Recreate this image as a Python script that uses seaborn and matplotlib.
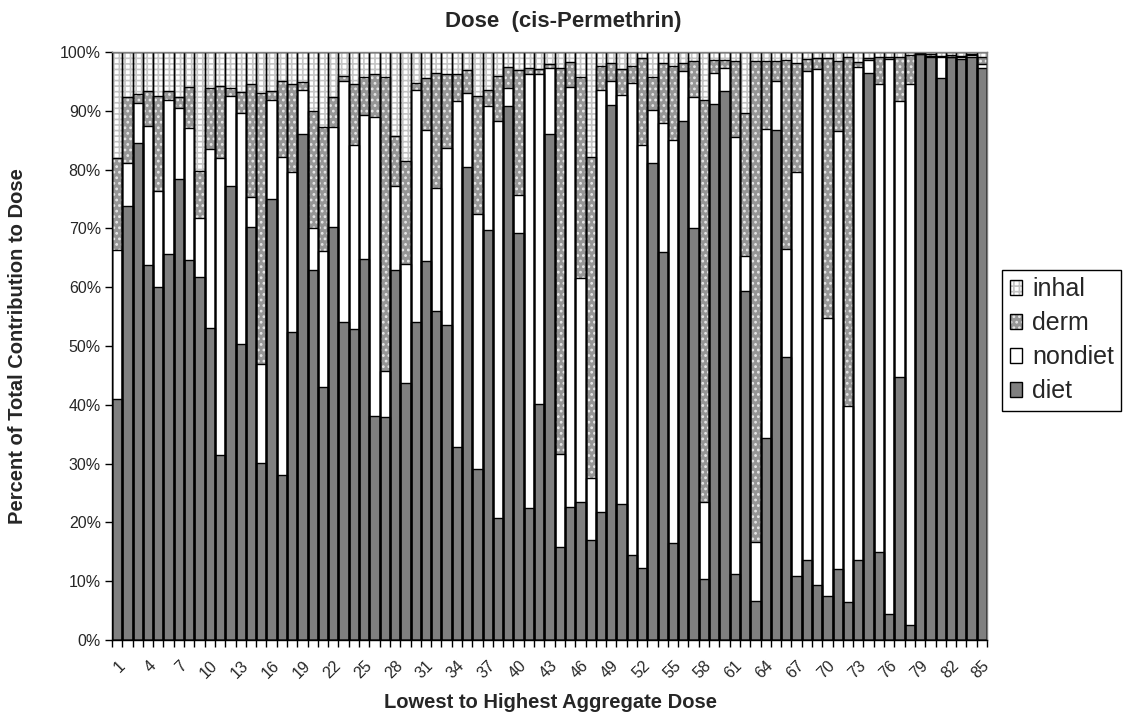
import numpy as np
import pandas as pd
import matplotlib
matplotlib.use("Agg")
import matplotlib.pyplot as plt
import matplotlib.patches as mpatches
from matplotlib.legend_handler import HandlerTuple
import seaborn as sns

sns.set_style("white")
plt.rcParams["font.family"] = ["Liberation Sans", "DejaVu Sans"]
plt.rcParams["hatch.linewidth"] = 1.2

# ---------------- data (percent of total dose) ----------------
dose_rank = list(range(1, 86))
tick_every = 3

diet = [41.0, 73.8, 84.6, 63.8, 60.1, 65.6, 78.4, 64.7, 61.8, 53.0,
        31.4, 77.2, 50.3, 70.3, 30.1, 75.0, 28.0, 52.4, 86.1, 62.9,
        43.0, 70.3, 54.0, 52.9, 64.8, 38.1, 37.9, 62.9, 43.7, 54.1,
        64.5, 56.0, 53.5, 32.8, 80.4, 29.0, 69.7, 20.7, 90.9, 69.2,
        22.4, 40.2, 86.1, 15.9, 22.7, 23.4, 17.0, 21.8, 91.0, 23.1,
        14.4, 12.3, 81.1, 66.0, 16.5, 88.3, 70.1, 10.4, 91.1, 93.3,
        11.3, 59.3, 6.7, 34.3, 86.7, 48.1, 10.9, 13.6, 9.4, 7.4,
        12.0, 6.4, 13.6, 96.4, 15.0, 4.4, 44.8, 2.6, 99.6, 99.1,
        95.6, 99.1, 98.8, 99.1, 97.3]
nondiet = [25.4, 7.4, 6.7, 23.6, 16.3, 26.3, 12.0, 22.4, 9.9, 30.5,
           50.5, 15.3, 39.4, 5.1, 16.9, 16.9, 54.2, 27.2, 7.5, 7.2,
           23.2, 17.0, 41.1, 31.3, 24.5, 50.8, 7.9, 14.3, 20.3, 39.4,
           22.2, 20.9, 30.2, 58.8, 12.6, 43.5, 21.1, 67.6, 2.9, 6.4,
           73.9, 56.0, 11.2, 15.8, 71.3, 38.1, 10.5, 71.8, 4.0, 69.6,
           80.3, 71.8, 9.1, 22.0, 68.5, 8.4, 22.2, 13.0, 5.4, 4.0,
           74.3, 6.0, 10.0, 52.6, 8.3, 18.4, 68.7, 83.1, 87.7, 47.3,
           74.5, 33.4, 83.8, 2.2, 79.5, 94.4, 46.8, 91.9, 0.0, 0.2,
           3.5, 0.1, 0.3, 0.4, 0.7]
derm = [15.5, 11.2, 1.5, 6.0, 16.1, 1.4, 1.9, 6.9, 8.1, 10.4,
        12.3, 1.4, 3.5, 19.1, 46.0, 1.4, 12.9, 14.9, 1.3, 19.9,
        21.1, 5.0, 0.9, 10.3, 6.4, 7.3, 49.9, 8.5, 17.5, 1.2,
        8.9, 19.6, 12.5, 4.6, 3.9, 20.0, 2.8, 7.7, 3.6, 21.3,
        1.0, 0.9, 0.6, 65.6, 4.3, 34.3, 54.7, 4.1, 3.1, 4.4,
        3.0, 14.9, 5.6, 10.2, 12.6, 1.5, 6.1, 68.5, 2.1, 1.3,
        12.8, 24.4, 81.7, 11.5, 3.4, 32.1, 18.5, 2.1, 1.9, 44.2,
        11.9, 59.3, 0.9, 0.4, 4.6, 0.4, 7.6, 5.0, 0.2, 0.3,
        0.2, 0.3, 0.3, 0.2, 1.2]
inhal = [18.1, 7.6, 7.2, 6.6, 7.5, 6.7, 7.7, 6.0, 20.2, 6.1,
         5.8, 6.1, 6.8, 5.5, 7.0, 6.7, 4.9, 5.5, 5.1, 10.0,
         12.7, 7.7, 4.0, 5.5, 4.3, 3.8, 4.3, 14.3, 18.5, 5.3,
         4.4, 3.5, 3.8, 3.8, 3.1, 7.5, 6.4, 4.0, 2.6, 3.1,
         2.7, 2.9, 2.1, 2.7, 1.7, 4.2, 17.8, 2.3, 1.9, 2.9,
         2.3, 1.0, 4.2, 1.8, 2.4, 1.8, 1.6, 8.1, 1.4, 1.4,
         1.6, 10.3, 1.6, 1.6, 1.6, 1.4, 1.9, 1.2, 1.0, 1.1,
         1.6, 0.9, 1.7, 1.0, 0.9, 0.8, 0.8, 0.5, 0.2, 0.4,
         0.7, 0.5, 0.6, 0.3, 0.8]

series_names = ["diet", "nondiet", "derm", "inhal"]
legend_order = ["inhal", "derm", "nondiet", "diet"]

title_text = "Dose  (cis-Permethrin)"
x_title = "Lowest to Highest Aggregate Dose"
y_title = "Percent of Total Contribution to Dose"

# ---------------- frame ----------------
df = pd.DataFrame({"rank": [str(r) for r in dose_rank],
                   "diet": diet, "nondiet": nondiet,
                   "derm": derm, "inhal": inhal})
running = np.zeros(len(df))
for name in series_names:
    running = running + df[name].to_numpy()
    df["cum_" + name] = running

styles = {
    "inhal":   dict(fc="white",   hatch="+++", hc="#c4c4c4"),
    "derm":    dict(fc="#969696", hatch="...", hc="#e6e6e6"),
    "nondiet": dict(fc="white",   hatch=None,  hc="white"),
    "diet":    dict(fc="#808080", hatch=None,  hc="#808080"),
}

W, H = 1126, 713
fig = plt.figure(figsize=(W / 100, H / 100), dpi=100)
ax = fig.add_axes([112 / W, 1 - 640 / H, (987 - 112) / W, (640 - 52) / H])

order = list(df["rank"])
draw_order = ["inhal", "derm", "nondiet", "diet"]  # tallest cumulative first
for name in draw_order:
    st = styles[name]
    kw = dict(edgecolor=st["hc"], linewidth=0)
    if st["hatch"]:
        kw["hatch"] = st["hatch"]
    sns.barplot(data=df, x="rank", y="cum_" + name, order=order,
                color=st["fc"], saturation=1, width=1.0, errorbar=None,
                ax=ax, **kw)
for name in draw_order:
    sns.barplot(data=df, x="rank", y="cum_" + name, order=order,
                color="black", fill=False, saturation=1, width=1.0,
                errorbar=None, linewidth=1.0, ax=ax)

# ---------------- axes styling ----------------
n = len(df)
ax.set_xlim(-0.5, n - 0.5)
ax.set_ylim(0, 100)
ax.set_xlabel("")
ax.set_ylabel("")

ax.set_xticks(np.arange(-0.5, n, 1.0))
ax.set_xticklabels([])
ax.tick_params(axis="x", which="major", direction="out", length=5,
               width=1, color="black", bottom=True)
lab_pos = list(range(0, n, tick_every))
ax.set_xticks(lab_pos, minor=True)
ax.set_xticklabels([order[i] for i in lab_pos], minor=True, rotation=45,
                   ha="right", rotation_mode="anchor", fontsize=11.5)
ax.tick_params(axis="x", which="minor", length=0, pad=13)

yt = list(range(0, 101, 10))
ax.set_yticks(yt)
ax.set_yticklabels([f"{v}%" for v in yt], fontsize=11.5)
ax.tick_params(axis="y", direction="out", length=5, width=1,
               color="black", left=True, pad=3)

for side in ["left", "bottom"]:
    ax.spines[side].set_color("black")
    ax.spines[side].set_linewidth(1.0)
for side in ["top", "right"]:
    ax.spines[side].set_color("#808080")
    ax.spines[side].set_linewidth(1.0)
ax.grid(False)

# ---------------- texts ----------------
fig.text(0.5, 1 - 22 / H, title_text, ha="center", va="center",
         fontsize=16, fontweight="bold")
fig.text(550 / W, 1 - 702 / H, x_title, ha="center", va="center",
         fontsize=14.5, fontweight="bold")
fig.text(18 / W, 1 - 346 / H, y_title, ha="center", va="center",
         rotation=90, fontsize=14.5, fontweight="bold")

# ---------------- legend ----------------
handles = []
for name in legend_order:
    st = styles[name]
    p1 = mpatches.Patch(facecolor=st["fc"], edgecolor=st["hc"],
                        hatch=st["hatch"], linewidth=0)
    p2 = mpatches.Patch(facecolor="none", edgecolor="black", linewidth=1.0)
    handles.append((p1, p2))
leg = fig.legend(handles, legend_order, loc="upper left",
                 bbox_to_anchor=(1002 / W, 1 - 270 / H),
                 handler_map={tuple: HandlerTuple(ndivide=1)},
                 fontsize=18, frameon=True, fancybox=False,
                 edgecolor="black", framealpha=1, borderpad=0.3,
                 labelspacing=0.4, handlelength=0.5, handleheight=0.5,
                 handletextpad=0.4, borderaxespad=0)
leg.get_frame().set_linewidth(1.0)

fig.savefig("out.png", dpi=100)
